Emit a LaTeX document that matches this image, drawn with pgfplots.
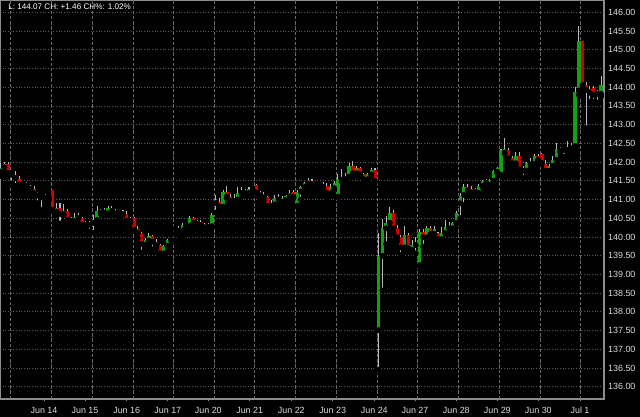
\documentclass[border=0pt]{standalone}
\usepackage{fontspec}
\setmainfont{Liberation Sans}
\usepackage{pgfplots}
\usepackage{pgfplotstable}
\pgfplotsset{compat=1.18}
\definecolor{cgreen}{RGB}{20,160,20}
\definecolor{cred}{RGB}{210,0,0}
\definecolor{cdoji}{RGB}{230,200,0}
\definecolor{wickc}{RGB}{185,185,185}
\definecolor{vgrid}{RGB}{105,105,105}
\definecolor{hgrid}{RGB}{90,90,90}
\definecolor{axc}{RGB}{140,140,140}
\definecolor{lab}{RGB}{220,220,220}
% rising candles
\pgfplotstableread{
i O H L C
1 141.74 141.97 141.63 141.83
2 141.86 142.01 141.74 141.95
7 141.39 141.48 141.30 141.43
13 141.05 141.15 140.94 141.08
14 141.06 141.12 140.99 141.09
16 140.68 140.90 140.63 140.76
18 140.61 140.88 140.59 140.70
21 140.43 140.63 140.36 140.54
24 140.32 140.43 140.19 140.36
26 140.38 140.59 140.11 140.45
27 140.45 140.83 140.41 140.70
30 140.63 140.83 140.60 140.76
34 140.61 140.72 140.59 140.63
36 140.43 140.52 140.38 140.47
40 139.79 139.96 139.70 139.92
41 139.90 140.10 139.83 140.02
45 139.56 139.78 139.43 139.76
46 139.76 139.95 139.74 139.92
47 139.92 140.01 139.90 139.99
50 140.17 140.36 140.02 140.32
52 140.29 140.56 140.26 140.50
56 140.26 140.36 140.19 140.34
57 140.27 140.36 140.20 140.32
58 140.29 140.65 140.27 140.59
59 140.90 141.12 140.65 140.92
61 140.81 141.25 140.76 141.21
64 140.96 141.15 140.90 141.00
65 141.00 141.33 140.97 141.17
66 141.17 141.34 141.12 141.24
68 141.17 141.34 141.15 141.28
69 141.25 141.33 141.24 141.27
74 140.83 140.99 140.76 140.90
75 140.87 141.12 140.85 141.05
77 140.94 141.09 140.90 141.03
78 140.99 141.12 140.94 141.09
79 141.09 141.25 141.06 141.18
81 140.83 141.25 140.81 141.21
82 141.21 141.36 141.00 141.33
83 141.33 141.47 141.27 141.43
84 141.43 141.57 141.39 141.50
90 141.17 141.41 141.09 141.33
91 141.30 141.50 141.25 141.45
92 141.08 141.67 141.06 141.54
94 141.54 141.70 141.52 141.59
95 141.61 141.97 141.59 141.90
97 141.70 141.90 141.63 141.83
100 141.54 141.72 141.50 141.67
101 141.67 141.85 141.63 141.79
103 137.51 140.10 136.45 139.49
104 139.49 140.47 138.57 140.23
105 140.23 140.56 139.81 140.38
106 140.38 140.79 140.23 140.65
110 139.72 140.29 139.70 140.05
112 139.65 139.92 139.58 139.79
113 139.78 140.01 139.56 139.83
114 139.25 140.20 139.22 140.14
116 139.99 140.29 139.85 140.23
118 140.08 140.29 140.03 140.20
120 139.94 140.27 139.90 140.10
121 140.10 140.45 140.08 140.27
123 140.23 140.41 140.19 140.38
124 140.38 140.68 140.35 140.65
125 140.90 141.18 140.50 141.09
126 141.12 141.41 140.85 141.33
130 141.18 141.41 141.15 141.36
131 141.36 141.52 141.34 141.50
133 141.39 141.54 141.37 141.52
134 141.50 141.79 141.48 141.77
135 141.74 141.86 141.70 141.83
136 141.66 142.34 141.63 142.31
137 142.25 142.63 142.23 142.34
140 141.97 142.28 141.92 142.16
143 141.77 142.01 141.66 141.97
145 141.95 142.22 141.92 142.16
149 141.77 141.95 141.63 141.90
150 141.90 142.15 141.81 142.06
151 142.06 142.50 142.04 142.34
153 142.32 142.41 142.15 142.37
154 142.32 142.55 142.31 142.37
155 142.37 142.50 142.34 142.43
156 142.43 144.01 142.40 143.88
157 143.91 145.63 143.79 145.22
163 143.82 144.30 143.75 144.07
}\upcandles
% falling candles
\pgfplotstableread{
i O H L C
3 141.95 142.01 141.70 141.70
4 141.70 141.74 141.43 141.66
5 141.65 141.77 141.36 141.57
6 141.54 141.63 141.34 141.41
8 141.43 141.48 141.30 141.37
9 141.36 141.39 141.24 141.28
10 141.27 141.36 141.15 141.17
11 141.18 141.21 140.90 141.11
12 141.09 141.12 140.72 141.06
15 141.25 141.25 140.72 140.72
17 140.76 140.90 140.36 140.61
19 140.70 140.74 140.45 140.45
20 140.47 140.54 140.34 140.43
22 140.56 140.63 140.36 140.50
23 140.50 140.54 140.23 140.32
25 140.36 140.43 140.14 140.32
28 140.69 140.74 140.61 140.65
29 140.69 140.76 140.59 140.65
31 140.76 140.83 140.68 140.70
32 140.70 140.74 140.59 140.63
35 140.61 140.68 140.32 140.43
37 140.50 140.52 140.19 140.20
38 140.22 140.29 139.96 140.11
39 140.11 140.14 139.58 139.81
42 140.02 140.05 139.67 139.87
43 139.87 139.94 139.70 139.78
44 139.78 139.81 139.52 139.56
48 140.26 140.27 140.08 140.23
49 140.25 140.29 140.05 140.17
51 140.34 140.38 140.23 140.29
53 140.50 140.54 140.23 140.38
54 140.41 140.45 140.32 140.36
55 140.41 140.45 140.26 140.32
60 140.94 141.03 140.76 140.81
62 141.21 141.36 141.03 141.08
63 141.08 141.15 140.90 140.96
67 141.23 141.27 141.15 141.17
70 141.39 141.41 141.17 141.18
71 141.18 141.24 141.00 141.11
72 141.09 141.21 140.97 141.06
73 141.08 141.09 140.78 140.83
76 141.06 141.15 140.85 141.00
80 141.19 141.25 141.03 141.08
85 141.50 141.54 141.38 141.41
86 141.45 141.48 141.36 141.41
87 141.43 141.46 141.36 141.40
88 141.38 141.48 141.25 141.34
89 141.37 141.43 141.05 141.17
96 141.90 142.03 141.65 141.70
98 141.83 141.88 141.63 141.67
99 141.67 141.72 141.43 141.54
102 141.79 141.83 141.43 141.50
107 140.65 140.72 140.10 140.23
108 140.23 140.32 139.90 139.99
109 139.99 140.05 139.52 139.72
111 140.05 140.10 139.63 139.70
115 140.14 140.20 139.74 139.99
117 140.23 140.29 139.92 140.08
119 140.10 140.14 139.87 139.94
122 140.27 140.41 140.08 140.23
127 141.33 141.41 141.12 141.25
128 141.27 141.36 141.09 141.18
129 141.25 141.30 141.12 141.20
132 141.50 141.54 141.30 141.45
138 142.32 142.37 141.95 142.10
139 142.10 142.15 141.83 141.97
141 142.16 142.28 141.77 141.81
142 141.81 141.90 141.57 141.77
144 141.97 142.10 141.83 141.94
146 142.16 142.22 142.01 142.06
147 142.22 142.25 141.95 141.98
148 141.95 142.06 141.63 141.77
152 142.34 142.41 142.25 142.31
158 145.22 145.22 144.00 144.06
159 144.06 144.15 142.90 143.93
160 143.94 144.03 143.61 143.85
161 143.99 144.03 143.61 143.79
162 143.88 143.92 143.59 143.82
}\downcandles
% unchanged candles
\pgfplotstableread{
i O H L C
33 140.62 140.68 140.47 140.62
93 141.53 141.81 141.48 141.53
}\flatcandles
\pgfplotsset{
  wick/.style={only marks, mark=none, forget plot,
    error bars/.cd, y dir=plus, y explicit, error mark=none,
    error bar style={draw=wickc, line width=0.8pt}},
  body/.style={only marks, mark=none, forget plot,
    error bars/.cd, y dir=plus, y explicit, error mark=none,
    error bar style={draw=#1, line width=2.6pt}},
}
\begin{document}
\begin{tikzpicture}
\fill[black] (0pt,-13.5pt) rectangle (480pt,299.25pt);
\begin{axis}[
  at={(0pt,0pt)}, anchor=south west,
  scale only axis, width=453pt, height=299.25pt,
  xmin=0.811, xmax=163.79, ymin=135.672, ymax=146.3285,
  axis line style={draw=axc, line width=0.8pt},
  xtick={12.68,23.75,35.0,46.09,57.02,68.19,79.41,90.58,101.81,112.79,123.94,135.0,146.06,157.32},
  xticklabels={Jun 14,Jun 15,Jun 16,Jun 17,Jun 20,Jun 21,Jun 22,Jun 23,Jun 24,Jun 27,Jun 28,Jun 29,Jun 30,Jul 1},
  xtick pos=bottom,
  tick align=outside,
  major tick length=1.5pt,
  xtick style={draw=axc, line width=0.6pt},
  xticklabel style={font=\fontsize{6.7}{8}\selectfont, text=lab, anchor=base, inner sep=0pt, yshift=-9.4pt},
  extra x ticks={3.70,14.65,25.72,36.78,47.57,58.64,69.54,80.60,91.66,102.54,113.52,124.48,135.54,146.52,157.50},
  extra x tick labels={},
  extra x tick style={grid=major, major tick length=0pt, major grid style={draw=vgrid, line width=0.6pt, dash pattern=on 2.6pt off 1.3pt}},
  ytick={136,136.5,137,137.5,138,138.5,139,139.5,140,140.5,141,141.5,142,142.5,143,143.5,144,144.5,145,145.5,146},
  ytick pos=right, yticklabel pos=right,
  ytick style={draw=none},
  ymajorgrids,
  major grid style={draw=hgrid, line width=0.5pt, dash pattern=on 0.6pt off 1.4pt},
  yticklabel style={font=\fontsize{6.7}{8}\selectfont, text=lab, anchor=west, inner sep=0pt, xshift=1.4pt,
    /pgf/number format/.cd, fixed, fixed zerofill, precision=2, assume math mode=true},
]
% wicks
\addplot[wick] table[x=i, y=L, y error plus expr={\thisrow{H}-\thisrow{L}}] {\upcandles};
\addplot[wick] table[x=i, y=L, y error plus expr={\thisrow{H}-\thisrow{L}}] {\downcandles};
\addplot[wick] table[x=i, y=L, y error plus expr={\thisrow{H}-\thisrow{L}}] {\flatcandles};
% bodies
\addplot[body=cgreen] table[x=i, y=O, y error plus expr={max(\thisrow{C}-\thisrow{O},0.04)}] {\upcandles};
\addplot[body=cred] table[x=i, y=C, y error plus expr={max(\thisrow{O}-\thisrow{C},0.04)}] {\downcandles};
\addplot[body=cdoji] table[x=i, y=O, y error plus expr={0.04}] {\flatcandles};
\end{axis}
\node[anchor=north west, inner sep=0pt, text=white, font=\fontsize{6.1}{7}\selectfont] at (6pt,296.4pt) {L: 144.07 CH: +1.46 CH\%: 1.02\%};
\pgfresetboundingbox
\path[use as bounding box] (0pt,-13.5pt) rectangle (480pt,299.25pt);
\end{tikzpicture}
\end{document}
